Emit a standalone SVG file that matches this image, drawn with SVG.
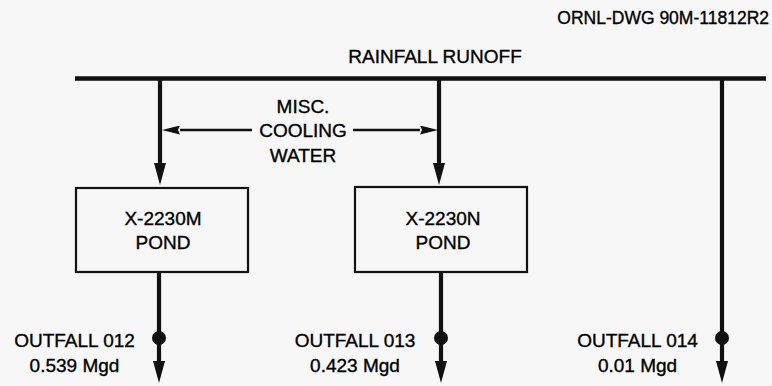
<svg xmlns="http://www.w3.org/2000/svg" width="772" height="386" viewBox="0 0 772 386">
<defs>
<style>
text{font-family:"Liberation Sans",Arial,Helvetica,sans-serif;font-size:19px;fill:#000;stroke:#000;stroke-width:0.35px;text-anchor:middle}
.box{fill:none;stroke:#111;stroke-width:2.2}
.flow{fill:none;stroke:#111;stroke-width:4.2}
.thin{fill:none;stroke:#111;stroke-width:2.4}
.dot{fill:#111}
</style>
<marker id="ah" markerUnits="userSpaceOnUse" markerWidth="22" markerHeight="12" refX="0" refY="6" orient="auto" viewBox="0 0 22 12">
<path d="M0,0 L22,6 L0,12 Z" fill="#111"/>
</marker>
<marker id="ahs" markerUnits="userSpaceOnUse" markerWidth="18" markerHeight="9" refX="0" refY="4.5" orient="auto" viewBox="0 0 18 9">
<path d="M0,0 L18,4.5 L0,9 L2,4.5 Z" fill="#111"/>
</marker>
</defs>
<rect width="772" height="386" fill="#f7f7f7"/>
<text x="769" y="24" style="text-anchor:end;font-size:17.5px">ORNL-DWG 90M-11812R2</text>
<text x="435" y="63">RAINFALL RUNOFF</text>
<g id="connectors">
<line class="flow" x1="75" y1="78.5" x2="766" y2="78.5" style="stroke-width:4.6"/>
<path class="flow" d="M160,78 V163" marker-end="url(#ah)"/>
<path class="flow" d="M439,78 V163" marker-end="url(#ah)"/>
<path class="flow" d="M722,78 V361" marker-end="url(#ah)"/>
<path class="flow" d="M159,273 V361" marker-end="url(#ah)"/>
<path class="flow" d="M441,273 V361" marker-end="url(#ah)"/>
<path class="thin" d="M252,130 H180" marker-end="url(#ahs)"/>
<path class="thin" d="M353,130 H420" marker-end="url(#ahs)"/>
<circle class="dot" cx="159" cy="338" r="7"/>
<circle class="dot" cx="441" cy="338" r="7"/>
<circle class="dot" cx="722" cy="338" r="7"/>
</g>
<g id="misc-cooling-water">
<text x="303" y="113">MISC.</text>
<text x="303" y="137">COOLING</text>
<text x="303" y="162">WATER</text>
</g>
<g id="pond-m">
<rect class="box" x="76" y="188" width="172" height="84"/>
<text x="163" y="225">X-2230M</text>
<text x="163" y="249">POND</text>
</g>
<g id="pond-n">
<rect class="box" x="355" y="187" width="172" height="85"/>
<text x="443" y="225">X-2230N</text>
<text x="443" y="249">POND</text>
</g>
<g id="outfall-012">
<text x="74.5" y="347">OUTFALL 012</text>
<text x="74.5" y="372">0.539 Mgd</text>
</g>
<g id="outfall-013">
<text x="355" y="347">OUTFALL 013</text>
<text x="355" y="372">0.423 Mgd</text>
</g>
<g id="outfall-014">
<text x="637.5" y="347">OUTFALL 014</text>
<text x="637.5" y="372">0.01 Mgd</text>
</g>
</svg>
